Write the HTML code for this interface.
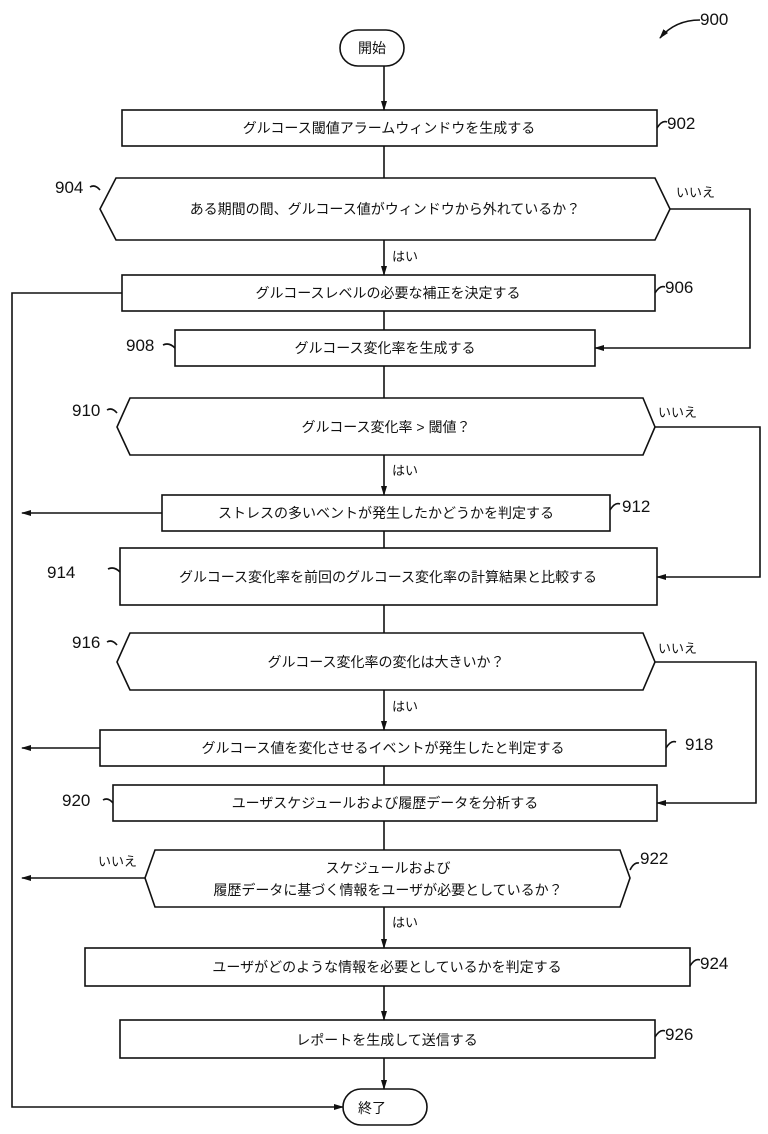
<!DOCTYPE html>
<html><head><meta charset="utf-8"><style>
html,body{margin:0;padding:0;background:#fff}
svg{display:block}
text{font-family:"Liberation Sans","Noto Sans CJK JP",sans-serif;fill:#111}
.t{font-size:14px;text-anchor:middle}
.n{font-size:17px}
</style></head><body>
<svg width="768" height="1134" viewBox="0 0 768 1134" xmlns="http://www.w3.org/2000/svg">
<defs><marker id="a" markerWidth="10" markerHeight="8" refX="9" refY="4" orient="auto" markerUnits="userSpaceOnUse"><path d="M0,1 L10,4 L0,7 Z" fill="#111"/></marker></defs>
<g fill="none" stroke="#111" stroke-width="1.6">
<rect x="340" y="30" width="64" height="36" rx="18"/>
<rect x="343" y="1089" width="84" height="36" rx="18"/>
<rect x="122" y="110" width="535" height="36"/>
<polygon points="116,178 655,178 670,209 655,240 116,240 100,209"/>
<rect x="122" y="275" width="533" height="36"/>
<rect x="175" y="330" width="420" height="36"/>
<polygon points="130,398 643,398 655,427 643,455 130,455 117,427"/>
<rect x="162" y="495" width="448" height="36"/>
<rect x="120" y="548" width="537" height="57"/>
<polygon points="130,633 643,633 655,662 643,690 130,690 117,662"/>
<rect x="100" y="730" width="566" height="36"/>
<rect x="113" y="785" width="544" height="36"/>
<polygon points="155,850 620,850 630,878 620,907 155,907 145,878"/>
<rect x="85" y="948" width="605" height="38"/>
<rect x="120" y="1020" width="535" height="38"/>
<!-- main vertical -->
<line x1="384" y1="66" x2="384" y2="110" marker-end="url(#a)"/>
<line x1="384" y1="146" x2="384" y2="178"/>
<line x1="384" y1="240" x2="384" y2="275" marker-end="url(#a)"/>
<line x1="384" y1="311" x2="384" y2="330"/>
<line x1="384" y1="366" x2="384" y2="398"/>
<line x1="384" y1="455" x2="384" y2="495" marker-end="url(#a)"/>
<line x1="384" y1="531" x2="384" y2="548"/>
<line x1="384" y1="605" x2="384" y2="633"/>
<line x1="384" y1="690" x2="384" y2="730" marker-end="url(#a)"/>
<line x1="384" y1="766" x2="384" y2="785"/>
<line x1="384" y1="821" x2="384" y2="850"/>
<line x1="384" y1="907" x2="384" y2="948" marker-end="url(#a)"/>
<line x1="384" y1="986" x2="384" y2="1020" marker-end="url(#a)"/>
<line x1="384" y1="1058" x2="384" y2="1089" marker-end="url(#a)"/>
<!-- left loop -->
<polyline points="122,293 12,293 12,1107 343,1107" marker-end="url(#a)"/>
<line x1="162" y1="513" x2="22" y2="513" marker-end="url(#a)"/>
<line x1="100" y1="748" x2="22" y2="748" marker-end="url(#a)"/>
<line x1="145" y1="878" x2="22" y2="878" marker-end="url(#a)"/>
<!-- right loops -->
<polyline points="670,209 750,209 750,348 595,348" marker-end="url(#a)"/>
<polyline points="655,427 760,427 760,577 657,577" marker-end="url(#a)"/>
<polyline points="655,662 756,662 756,803 657,803" marker-end="url(#a)"/>
<!-- leaders -->
<path d="M657,128 q5,-8 10,-6"/>
<path d="M100,190 q-5,-6 -10,-3"/>
<path d="M655,293 q5,-8 10,-6"/>
<path d="M175,348 q-6,-6 -12,-3"/>
<path d="M117,413 q-5,-6 -10,-3"/>
<path d="M610,510 q5,-8 10,-6"/>
<path d="M120,572 q-6,-6 -12,-3"/>
<path d="M117,645 q-5,-6 -10,-3"/>
<path d="M666,748 q5,-8 10,-6"/>
<path d="M113,803 q-5,-6 -10,-3"/>
<path d="M630,870 q4,-8 9,-7"/>
<path d="M690,966 q5,-8 10,-6"/>
<path d="M655,1037 q5,-8 10,-6"/>
<path d="M700,20 q-25,0 -40,18" marker-end="url(#a)"/>
</g>
<text class="t" x="372" y="53">開始</text>
<text class="t" x="372" y="1113">終了</text>
<text class="t" x="389" y="133">グルコース閾値アラームウィンドウを生成する</text>
<text class="t" x="385" y="214">ある期間の間、グルコース値がウィンドウから外れているか？</text>
<text class="t" x="388" y="298">グルコースレベルの必要な補正を決定する</text>
<text class="t" x="385" y="353">グルコース変化率を生成する</text>
<text class="t" x="386" y="432">グルコース変化率 &gt; 閾値？</text>
<text class="t" x="386" y="518">ストレスの多いベントが発生したかどうかを判定する</text>
<text class="t" x="388" y="582">グルコース変化率を前回のグルコース変化率の計算結果と比較する</text>
<text class="t" x="386" y="667">グルコース変化率の変化は大きいか？</text>
<text class="t" x="383" y="753">グルコース値を変化させるイベントが発生したと判定する</text>
<text class="t" x="385" y="808">ユーザスケジュールおよび履歴データを分析する</text>
<text class="t" x="388" y="873">スケジュールおよび</text>
<text class="t" x="388" y="895">履歴データに基づく情報をユーザが必要としているか？</text>
<text class="t" x="387" y="972">ユーザがどのような情報を必要としているかを判定する</text>
<text class="t" x="387" y="1045">レポートを生成して送信する</text>
<g style="font-size:13px">
<text x="392" y="261">はい</text><text x="392" y="475">はい</text><text x="392" y="711">はい</text><text x="392" y="927">はい</text>
<text x="676" y="197">いいえ</text><text x="658" y="417">いいえ</text><text x="658" y="653">いいえ</text><text x="98" y="866">いいえ</text>
</g>
<text class="n" x="700" y="25">900</text>
<text class="n" x="667" y="129">902</text>
<text class="n" x="55" y="193">904</text>
<text class="n" x="665" y="293">906</text>
<text class="n" x="126" y="351">908</text>
<text class="n" x="72" y="416">910</text>
<text class="n" x="622" y="512">912</text>
<text class="n" x="47" y="578">914</text>
<text class="n" x="72" y="648">916</text>
<text class="n" x="685" y="750">918</text>
<text class="n" x="62" y="806">920</text>
<text class="n" x="640" y="864">922</text>
<text class="n" x="700" y="969">924</text>
<text class="n" x="665" y="1040">926</text>
</svg>
</body></html>
